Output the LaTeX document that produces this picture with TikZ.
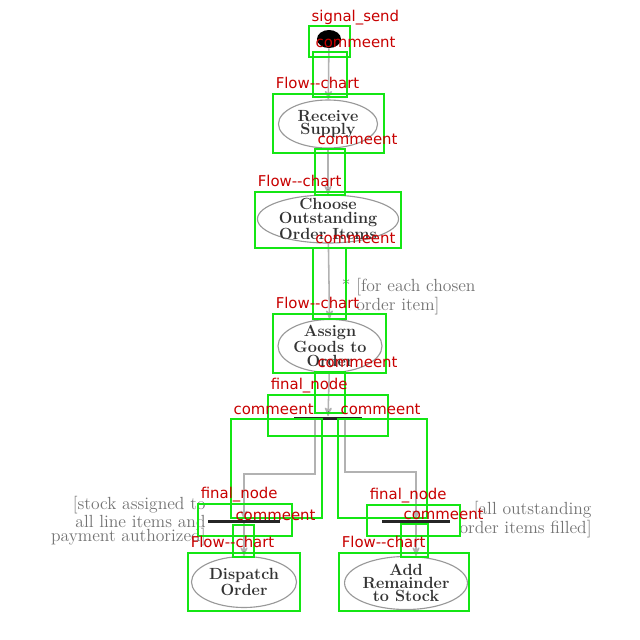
\documentclass[tikz,border=0pt]{standalone}
\usepackage{fontspec}
\newfontfamily\annofont{DejaVu Sans}
\usetikzlibrary{arrows,shapes,fit}
\definecolor{annogreen}{RGB}{20,230,20}
\definecolor{annored}{RGB}{200,0,0}
\tikzset{
  activity/.style={shape=ellipse,draw=black!40,line width=0.8pt,text=black!80,align=center,
    font=\fontsize{11.5}{9.5}\selectfont\bfseries,inner xsep=0pt,inner ysep=-4pt},
  syncbar/.style={shape=rectangle,fill=black!85,inner sep=0pt,minimum height=0.075cm},
  guard/.style={text=black!55,font=\fontsize{12.5}{10}\selectfont,inner sep=0pt},
  flow/.style={draw=black!30,line width=1.1pt},
  annobox/.style={draw=annogreen,line width=2.1pt,inner sep=0pt,fit={#1}},
  annolabel/.style={text=annored,font=\annofont\fontsize{10.6}{10}\selectfont,anchor=south west,
    inner sep=0pt,text height=7.5pt,text depth=2.5pt,label distance=-0.6pt,xshift=2.2pt}
}
\begin{document}
\begin{tikzpicture}[->,>=stealth',semithick,x=0.025cm,y=-0.025cm]
                \fill[white](0, 0)rectangle(640, 640);
                \useasboundingbox(0, 0)rectangle(640, 640);
                % activity diagram
                \node[shape=ellipse,fill=black,minimum width=0.6cm,minimum height=0.45cm,inner sep=0pt](start)at(329, 39){};
                \node[activity,minimum width=2.475cm,minimum height=1.2cm](receive)at(328, 124){Receive\\Supply};
                \node[activity,minimum width=3.525cm,minimum height=1.2cm](choose)at(328, 219){Choose\\Outstanding\\Order Items};
                \node[activity,minimum width=2.6cm,minimum height=1.325cm](assign)at(330, 346){Assign\\Goods to\\Order};
                \node[syncbar,minimum width=1.7cm](fork)at(328, 418){};
                \node[syncbar,minimum width=1.8cm](joinleft)at(244, 521){};
                \node[syncbar,minimum width=1.7cm](joinright)at(416, 521){};
                \node[activity,minimum width=2.625cm,minimum height=1.275cm](dispatch)at(244, 582){Dispatch\\Order};
                \node[activity,minimum width=3.05cm,minimum height=1.325cm](remainder)at(406, 583){Add\\Remainder\\to Stock};
                \node[guard,align=right,anchor=east](guardleft)at(206, 521){[stock assigned to\\all line items and\\payment authorized]};
                \node[guard,align=right,anchor=east](guardright)at(592, 520){[all outstanding\\order items filled]};
                \path[flow](start) edge (receive)
                (receive) edge (choose)
                (choose) edge node[guard,pos=0.7,right=0.3cm,align=left]{* [for each chosen\\\hphantom{* }order item]} (assign)
                (assign) edge (fork)
                (joinleft) edge (dispatch);
                \draw[flow]([xshift=-0.325cm]fork.south)--++(0, 54)-|(joinleft.north);
                \draw[flow]([xshift=0.425cm]fork.south)--++(0, 52)-|(joinright.north);
                \draw[flow](joinright.south)--(joinright.south|-remainder.north);
                % detection boxes
                \node[annobox={(309,26)(350,57)},label={[annolabel]north west:signal\_send}](sig){};
                \node[annobox={(313,52)(347,97)},label={[annolabel]north west:commeent}](c1){};
                \node[annobox={(273,94)(384,153)},label={[annolabel]north west:Flow{-}{-}chart}](f1){};
                \node[annobox={(315,149)(345,195)},label={[annolabel]north west:commeent}](c2){};
                \node[annobox={(255,192)(401,248)},label={[annolabel]north west:Flow{-}{-}chart}](f2){};
                \node[annobox={(313,248)(346,319)},label={[annolabel]north west:commeent}](c3){};
                \node[annobox={(273,314)(386,373)},label={[annolabel]north west:Flow{-}{-}chart}](f3){};
                \node[annobox={(315,372)(345,413)},label={[annolabel]north west:commeent}](c4){};
                \node[annobox={(268,395)(388,436)},label={[annolabel]north west:final\_node}](n1){};
                \node[annobox={(231,419)(322,518)},label={[annolabel]north west:commeent}](c5){};
                \node[annobox={(338,419)(427,518)},label={[annolabel]north west:commeent}](c6){};
                \node[annobox={(198,504)(292,536)},label={[annolabel]north west:final\_node}](n2){};
                \node[annobox={(233,525)(254,557)},label={[annolabel]north west:commeent}](c7){};
                \node[annobox={(188,553)(300,611)},label={[annolabel]north west:Flow{-}{-}chart}](f4){};
                \node[annobox={(367,505)(460,536)},label={[annolabel]north west:final\_node}](n3){};
                \node[annobox={(401,524)(428,557)},label={[annolabel]north west:commeent}](c8){};
                \node[annobox={(339,553)(469,611)},label={[annolabel]north west:Flow{-}{-}chart}](f5){};
\end{tikzpicture}
\end{document}
